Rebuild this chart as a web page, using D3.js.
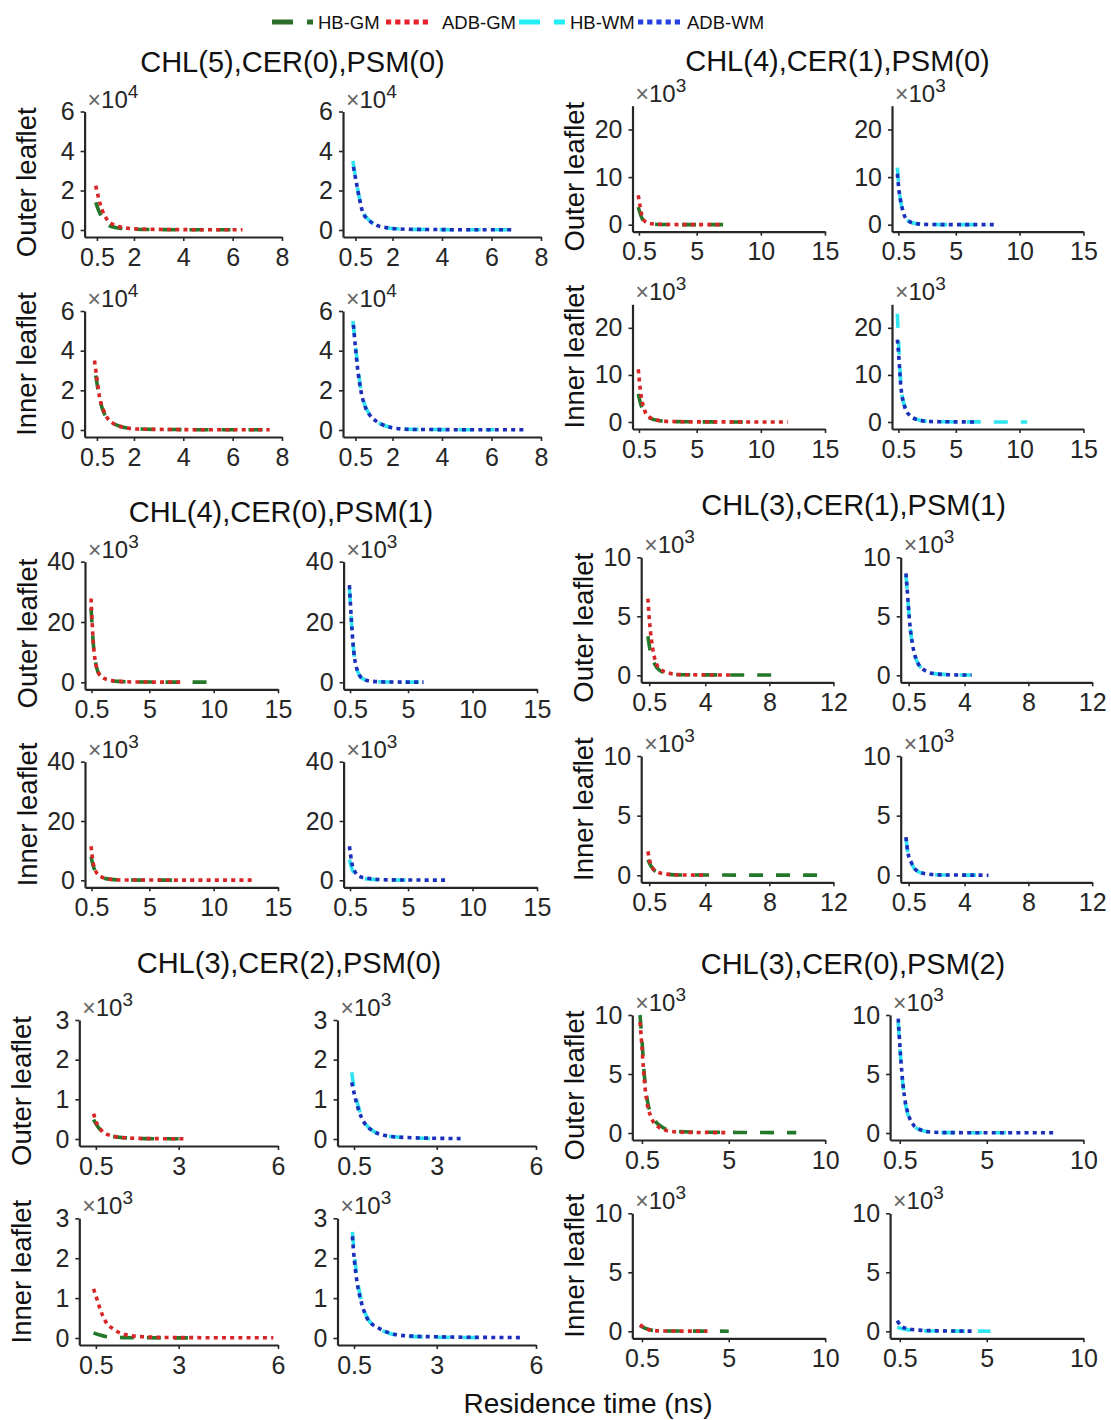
<!DOCTYPE html>
<html><head><meta charset="utf-8">
<script src="https://cdn.jsdelivr.net/npm/d3@7"></script>
<style>body{margin:0;background:#fff}svg{display:block;font-family:"Liberation Sans",Arial,Helvetica,sans-serif}</style>
</head><body><svg id="c" width="1111" height="1420"></svg>
<script>
// ---------- labels ----------
const groupTitles = ["CHL(5),CER(0),PSM(0)","CHL(4),CER(1),PSM(0)","CHL(4),CER(0),PSM(1)","CHL(3),CER(1),PSM(1)","CHL(3),CER(2),PSM(0)","CHL(3),CER(0),PSM(2)"];
const seriesNames = ["HB-GM","ADB-GM","HB-WM","ADB-WM"];
const rowNames = ["Outer leaflet","Inner leaflet"];
const xAxisTitle = "Residence time (ns)";

// ---------- axis limits / ticks ----------
const xMax = [8,15,15,12,6,10];
const yMax = [6,25,40,10,3,10];
const yExp = [4,3,3,3,3,3];
const g1XTicks=[0.5,2,4,6,8], g2XTicks=[0.5,5,10,15], g3XTicks=[0.5,5,10,15], g4XTicks=[0.5,4,8,12], g5XTicks=[0.5,3,6], g6XTicks=[0.5,5,10];
const g1YTicks=[0,2,4,6], g2YTicks=[0,10,20], g3YTicks=[0,20,40], g4YTicks=[0,5,10], g5YTicks=[0,1,2,3], g6YTicks=[0,5,10];

// ---------- data: [residence time (ns), count (×10^exp)] ----------
// Group 1: CHL(5),CER(0),PSM(0)  (×10^4)
const g1OutHBGM  = [[0.45,1.4],[0.6,0.9],[0.8,0.45],[1,0.22],[1.25,0.13],[1.5,0.08],[2,0.04],[3,0.02],[4,0.01],[6.1,0.01]];
const g1OutADBGM = [[0.45,2.25],[0.55,1.7],[0.7,1.05],[0.9,0.55],[1.2,0.25],[1.6,0.12],[2,0.06],[3,0.03],[4,0.02],[5,0.01],[6.4,0.01]];
const g1OutHBWM  = [[0.4,3.5],[0.5,2.7],[0.65,1.7],[0.8,0.95],[1.05,0.5],[1.35,0.25],[1.75,0.11],[2.3,0.05],[3,0.03],[4,0.02],[5,0.01],[6.8,0.01]];
const g1OutADBWM = [[0.42,3.2],[0.54,2.4],[0.67,1.55],[0.8,0.9],[1.07,0.47],[1.35,0.25],[1.75,0.12],[2.3,0.05],[3,0.03],[4,0.02],[5,0.01],[6.85,0.01]];
const g1InHBGM   = [[0.45,2.75],[0.55,2.0],[0.7,1.15],[0.9,0.6],[1.2,0.3],[1.6,0.13],[2.1,0.06],[3,0.03],[4,0.02],[5,0.01],[7.3,0.01]];
const g1InADBGM  = [[0.4,3.5],[0.5,2.6],[0.6,1.7],[0.75,1.05],[0.95,0.55],[1.2,0.3],[1.6,0.13],[2.1,0.05],[3,0.03],[4,0.02],[5,0.01],[7.5,0.01]];
const g1InHBWM   = [[0.4,5.5],[0.5,4.3],[0.6,3.2],[0.72,2.05],[0.87,1.3],[1.08,0.78],[1.37,0.42],[1.73,0.2],[2.2,0.08],[3,0.03],[4,0.02],[5,0.01],[6.1,0.01]];
const g1InADBWM  = [[0.42,5.3],[0.5,4.2],[0.58,3.2],[0.72,2.0],[0.87,1.26],[1.08,0.76],[1.37,0.42],[1.73,0.2],[2.17,0.08],[2.75,0.03],[4,0.02],[5,0.01],[7.45,0.01]];
// Group 2: CHL(4),CER(1),PSM(0)  (×10^3)
const g2OutHBGM  = [[0.45,3.7],[0.6,2.3],[0.8,1.05],[1.15,0.35],[1.7,0.12],[2.5,0.05],[4,0.02],[7.4,0.01]];
const g2OutADBGM = [[0.45,6.2],[0.6,3.7],[0.8,1.3],[1.15,0.42],[1.7,0.14],[2.5,0.05],[4,0.02],[7.0,0.01]];
const g2OutHBWM  = [[0.42,12],[0.5,9.5],[0.6,6.5],[0.78,3.5],[1.1,1.2],[1.65,0.35],[2.5,0.08],[4,0.02],[7.5,0.01]];
const g2OutADBWM = [[0.42,10.7],[0.55,7.2],[0.78,3.7],[1.1,1.26],[1.66,0.35],[2.5,0.07],[4,0.02],[8,0.01]];
const g2InHBGM   = [[0.45,6],[0.6,4.2],[0.9,2.1],[1.3,0.9],[2,0.3],[3,0.1],[5,0.03],[8.6,0.01]];
const g2InADBGM  = [[0.45,11.2],[0.6,7],[0.9,2.8],[1.3,1.05],[2,0.35],[3,0.1],[5,0.03],[12.1,0.01]];
const g2InHBWM   = [[0.42,23],[0.5,18],[0.6,12.5],[0.7,7.8],[0.97,3.5],[1.4,1.4],[2.2,0.35],[3,0.1],[5,0.03],[10.6,0.01]];
const g2InADBWM  = [[0.42,17.5],[0.55,13.3],[0.69,7.7],[0.97,3.5],[1.39,1.4],[2.2,0.35],[3,0.1],[6.5,0.01]];
// Group 3: CHL(4),CER(0),PSM(1)  (×10^3)
const g3OutHBGM  = [[0.47,24.5],[0.56,18.4],[0.67,11.5],[0.84,6],[1.17,2.3],[1.73,0.9],[2.6,0.3],[4,0.1],[9.8,0.05]];
const g3OutADBGM = [[0.47,27.8],[0.56,19.5],[0.67,11.7],[0.84,6.2],[1.17,2.3],[1.73,0.9],[2.56,0.33],[4,0.1],[7.4,0.05]];
const g3OutHBWM  = [[0.45,31],[0.56,23.5],[0.67,16],[0.78,10.5],[1.06,4],[1.48,1.2],[2.2,0.35],[3.5,0.1],[6.1,0.05]];
const g3OutADBWM = [[0.45,32.2],[0.56,23.9],[0.67,16.2],[0.78,10.6],[1.06,4],[1.48,1.2],[2.17,0.33],[3.5,0.1],[6.2,0.05]];
const g3InHBGM   = [[0.47,8],[0.6,5.5],[0.9,2.3],[1.3,1],[2,0.3],[3,0.1],[6.9,0.05]];
const g3InADBGM  = [[0.47,11.5],[0.61,6.5],[0.89,2.6],[1.3,1.1],[2,0.33],[3,0.1],[13,0.05]];
const g3InHBWM   = [[0.45,7],[0.6,4.5],[0.9,1.8],[1.3,0.8],[2.2,0.3],[3.5,0.1],[5.8,0.05]];
const g3InADBWM  = [[0.45,11.5],[0.64,5.9],[0.92,2.6],[1.34,1.1],[2.2,0.5],[3.5,0.15],[7.9,0.05]];
// Group 4: CHL(3),CER(1),PSM(1)  (×10^3)
const g4OutHBGM  = [[0.42,3.3],[0.5,2.55],[0.65,1.6],[0.82,1.0],[1.15,0.42],[1.7,0.15],[2.5,0.05],[8.4,0.02]];
const g4OutADBGM = [[0.42,6.5],[0.51,4.7],[0.64,3.0],[0.82,1.56],[1.15,0.57],[1.7,0.2],[2.4,0.06],[5.7,0.02]];
const g4OutHBWM  = [[0.33,8.5],[0.44,6.6],[0.55,4.6],[0.73,2.65],[1,1.25],[1.44,0.47],[2.1,0.14],[3,0.05],[4.4,0.02]];
const g4OutADBWM = [[0.33,8.64],[0.44,6.66],[0.55,4.67],[0.73,2.7],[1,1.27],[1.44,0.48],[2.1,0.14],[3,0.05],[4.45,0.02]];
const g4InHBGM   = [[0.42,1.3],[0.6,0.8],[0.93,0.3],[1.5,0.1],[2.5,0.03],[11.5,0.01]];
const g4InADBGM  = [[0.42,2.0],[0.6,0.9],[0.93,0.34],[1.5,0.11],[2.5,0.03],[4.15,0.01]];
const g4InHBWM   = [[0.33,3.1],[0.44,2.0],[0.67,1.0],[1,0.38],[1.66,0.1],[2.5,0.03],[5,0.01]];
const g4InADBWM  = [[0.33,3.2],[0.44,2.0],[0.67,1.05],[1,0.4],[1.66,0.11],[2.5,0.03],[5.5,0.01]];
// Group 5: CHL(3),CER(2),PSM(0)  (×10^3)
const g5OutHBGM  = [[0.43,0.49],[0.52,0.36],[0.68,0.19],[0.95,0.08],[1.4,0.03],[2,0.01],[3,0.005]];
const g5OutADBGM = [[0.43,0.64],[0.52,0.41],[0.68,0.21],[0.95,0.085],[1.38,0.03],[2,0.012],[3.27,0.005]];
const g5OutHBWM  = [[0.43,1.68],[0.5,1.3],[0.62,0.85],[0.8,0.45],[1.08,0.2],[1.46,0.085],[2,0.04],[3.05,0.01]];
const g5OutADBWM = [[0.43,1.43],[0.52,1.09],[0.65,0.7],[0.81,0.41],[1.08,0.2],[1.46,0.085],[2,0.04],[3.72,0.01]];
const g5InHBGM   = [[0.43,0.13],[0.6,0.08],[0.84,0.03],[1.3,0.01],[2,0.005],[3.3,0.003]];
const g5InADBGM  = [[0.43,1.23],[0.52,1.01],[0.63,0.72],[0.79,0.42],[1.06,0.21],[1.38,0.085],[1.92,0.03],[3,0.01],[5.86,0.005]];
const g5InHBWM   = [[0.45,2.66],[0.51,2.1],[0.6,1.45],[0.71,0.98],[0.92,0.48],[1.24,0.24],[1.56,0.12],[2,0.05],[3,0.02],[4.35,0.01]];
const g5InADBWM  = [[0.45,2.55],[0.51,1.94],[0.6,1.35],[0.71,0.93],[0.92,0.46],[1.24,0.25],[1.56,0.13],[2,0.06],[3,0.03],[5.6,0.01]];
// Group 6: CHL(3),CER(0),PSM(2)  (×10^3)
const g6OutHBGM  = [[0.4,10],[0.5,7.9],[0.63,4.8],[0.81,2.5],[1.14,1.13],[1.5,0.56],[2,0.2],[3,0.08],[8.5,0.03]];
const g6OutADBGM = [[0.4,9.4],[0.5,7.3],[0.59,5.1],[0.74,2.8],[0.96,1.4],[1.32,0.56],[1.88,0.17],[2.6,0.06],[5,0.03]];
const g6OutHBWM  = [[0.42,9.4],[0.51,7.1],[0.61,5],[0.74,3],[0.92,1.6],[1.2,0.65],[1.56,0.26],[2.1,0.08],[3,0.03],[6,0.02]];
const g6OutADBWM = [[0.42,9.7],[0.51,7.3],[0.61,5.1],[0.74,3.1],[0.92,1.7],[1.2,0.7],[1.56,0.28],[2.1,0.08],[3,0.03],[8.46,0.02]];
const g6InHBGM   = [[0.4,0.5],[0.68,0.24],[1.05,0.08],[1.6,0.03],[5,0.01]];
const g6InADBGM  = [[0.4,0.55],[0.68,0.25],[1.05,0.08],[1.6,0.03],[3.9,0.01]];
const g6InHBWM   = [[0.37,0.34],[0.55,0.25],[0.83,0.15],[1.38,0.06],[2.5,0.02],[5.2,0.01]];
const g6InADBWM  = [[0.37,0.9],[0.55,0.48],[0.83,0.25],[1.38,0.11],[2.5,0.04],[4.3,0.01]];

// ---------- assemble ----------
const xTicksAll = [g1XTicks,g2XTicks,g3XTicks,g4XTicks,g5XTicks,g6XTicks];
const yTicksAll = [g1YTicks,g2YTicks,g3YTicks,g4YTicks,g5YTicks,g6YTicks];
const groupData = [
 [[g1OutHBGM,g1OutADBGM,g1OutHBWM,g1OutADBWM],[g1InHBGM,g1InADBGM,g1InHBWM,g1InADBWM]],
 [[g2OutHBGM,g2OutADBGM,g2OutHBWM,g2OutADBWM],[g2InHBGM,g2InADBGM,g2InHBWM,g2InADBWM]],
 [[g3OutHBGM,g3OutADBGM,g3OutHBWM,g3OutADBWM],[g3InHBGM,g3InADBGM,g3InHBWM,g3InADBWM]],
 [[g4OutHBGM,g4OutADBGM,g4OutHBWM,g4OutADBWM],[g4InHBGM,g4InADBGM,g4InHBWM,g4InADBWM]],
 [[g5OutHBGM,g5OutADBGM,g5OutHBWM,g5OutADBWM],[g5InHBGM,g5InADBGM,g5InHBWM,g5InADBWM]],
 [[g6OutHBGM,g6OutADBGM,g6OutHBWM,g6OutADBWM],[g6InHBGM,g6InADBGM,g6InHBWM,g6InADBWM]]
];

// layout (pixels)
const layout = [
 {tx:292.5, ty:72,  cols:[[84.6,282],[343,541]],      rows:[[111.5,237],[311,437]]},
 {tx:837.5, ty:71,  cols:[[632.5,825],[892,1083.4]],  rows:[[105.7,231.7],[304.3,429]]},
 {tx:281,   ty:522, cols:[[85,278],[343.6,537]],      rows:[[561.7,689.3],[761.7,887.3]]},
 {tx:853.6, ty:515, cols:[[641.2,833.4],[900.7,1092.2]], rows:[[557.3,682.3],[756,882.3]]},
 {tx:289,   ty:973, cols:[[79.3,278],[337.5,536]],    rows:[[1020,1146],[1218.3,1345]]},
 {tx:853,   ty:974, cols:[[632.3,825.2],[890.1,1083.4]], rows:[[1015,1140],[1213.3,1338.3]]}
];
const styles = [
 {color:"#23782a", dash:"14,13", w:3.6},
 {color:"#d82626", dash:"4,4.2", w:3.6},
 {color:"#30e4f0", dash:"14,13", w:3.6},
 {color:"#1a2fba", dash:"4,4.2", w:3.6}
];
const legendColors = ["#2a6e2a","#e8202a","#22eef5","#2340e0"];
const INK = "#262626";

const svg = d3.select("#c");

// legend
const legendItems = [
 {x0:272, x1:313, tx:318, dash:"21,14"},
 {x0:386, x1:432, tx:442, dash:"5.2,4"},
 {x0:519, x1:565, tx:570, dash:"21,14"},
 {x0:638, x1:683, tx:687, dash:"5.2,4"}
];
const lg = svg.append("g");
legendItems.forEach((it,i)=>{
  lg.append("line").attr("x1",it.x0).attr("x2",it.x1).attr("y1",22).attr("y2",22)
    .attr("stroke",legendColors[i]).attr("stroke-width",5).attr("stroke-dasharray",it.dash);
  lg.append("text").attr("x",it.tx).attr("y",28.5).attr("font-size",18.5).attr("fill","#111").text(seriesNames[i]);
});

const line = (x,y)=>d3.line().x(d=>x(d[0])).y(d=>y(d[1])).curve(d3.curveMonotoneX);

layout.forEach((L,gi)=>{
  const g = svg.append("g");
  g.append("text").attr("x",L.tx).attr("y",L.ty).attr("text-anchor","middle")
    .attr("font-size",29).attr("fill","#111").text(groupTitles[gi]);
  [0,1].forEach(row=>{
    [0,1].forEach(col=>{
      const [x0,x1] = L.cols[col];
      const [top,bot] = L.rows[row];
      const zeroY = bot-7;
      const x = d3.scaleLinear().domain([0,xMax[gi]]).range([x0,x1]);
      const y = d3.scaleLinear().domain([0,yMax[gi]]).range([zeroY,top]);
      const yAx = d3.scaleLinear().domain([y.invert(bot), yMax[gi]]).range([bot,top]);
      const p = g.append("g");
      // curves
      const sIdx = col===0 ? [0,1] : [2,3];
      sIdx.forEach(si=>{
        p.append("path").datum(groupData[gi][row][si])
          .attr("d", line(x,y)).attr("fill","none")
          .attr("stroke",styles[si].color).attr("stroke-width",styles[si].w)
          .attr("stroke-dasharray",styles[si].dash);
      });
      // axes
      const xa = p.append("g").attr("transform",`translate(0,${bot})`)
        .call(d3.axisBottom(x).tickValues(xTicksAll[gi]).tickSize(4).tickSizeOuter(0).tickPadding(7).tickFormat(d=>String(d)));
      const ya = p.append("g").attr("transform",`translate(${x0},0)`)
        .call(d3.axisLeft(yAx).tickValues(yTicksAll[gi]).tickSize(4).tickSizeOuter(0).tickPadding(6).tickFormat(d=>String(d)));
      [xa,ya].forEach(a=>{
        a.select(".domain").attr("stroke",INK).attr("stroke-width",2.2);
        a.selectAll(".tick line").attr("stroke",INK).attr("stroke-width",1.6);
        a.selectAll(".tick text").attr("fill",INK).attr("font-size",25).attr("font-family","Liberation Sans, Arial, sans-serif");
      });
      // exponent label
      const ex = p.append("text").attr("x",x0+3).attr("y",top-4).attr("font-size",24).attr("fill",INK);
      ex.append("tspan").attr("fill","#666").attr("font-size",23).text("\u00D7");
      ex.append("tspan").text("10");
      ex.append("tspan").attr("font-size",19).attr("dy",-10).text(String(yExp[gi]));
      // row label
      if(col===0){
        const cy = (top+bot)/2 + (row===0 ? 8 : -10);
        p.append("text").attr("transform",`translate(${x0-58},${cy}) rotate(-90)`)
          .attr("text-anchor","middle").attr("dominant-baseline","central")
          .attr("font-size",27.5).attr("fill","#111").text(rowNames[row]);
      }
    });
  });
});

svg.append("text").attr("x",588).attr("y",1413).attr("text-anchor","middle")
  .attr("font-size",28).attr("fill","#111").text(xAxisTitle);
</script></body></html>
